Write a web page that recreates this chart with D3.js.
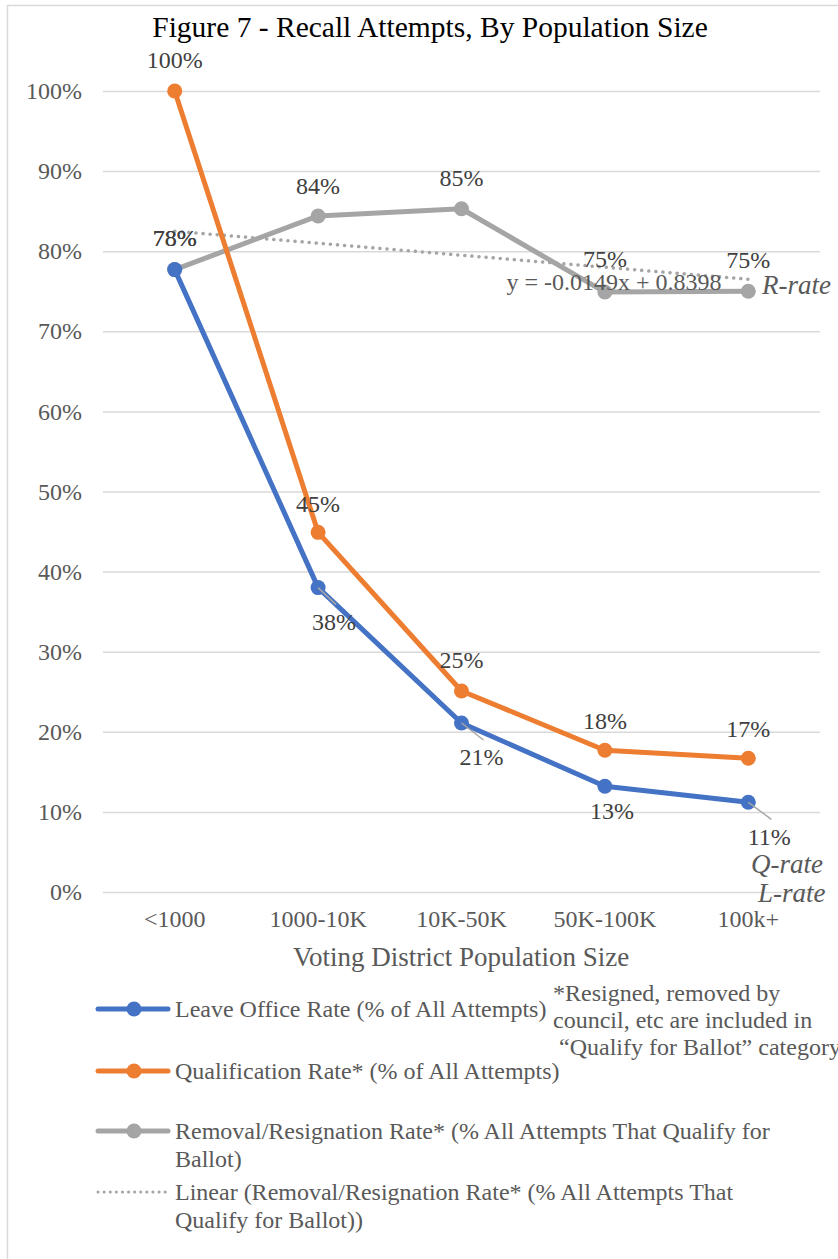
<!DOCTYPE html>
<html lang="en">
<head>
  <meta charset="UTF-8">
  <title>Figure 7 - Recall Attempts, By Population Size</title>
  <style type="text/css">
    body {
      margin: 0;
      background: white;
      font-family: "Liberation Serif", "Times New Roman", serif;
    }
    .axis path { display: none; }
    .axis text { fill: #595959; font-size: 24px; font-family: "Liberation Serif", serif; }
    .grid line { stroke: #d9d9d9; stroke-width: 1.5; }
    .grid path { display: none; }
    .label { fill: #404040; font-size: 24px; text-anchor: middle; }
    .legend text { fill: #595959; font-size: 24px; }
  </style>
  <script src="https://cdn.jsdelivr.net/npm/d3@7"></script>
</head>
<body>
<div class="main"></div>
<script>
  // data
  var categories = ["<1000", "1000-10K", "10K-50K", "50K-100K", "100k+"];
  var leaveRate = [0.777, 0.38, 0.211, 0.132, 0.112];
  var qualRate = [1.0, 0.449, 0.251, 0.177, 0.167];
  var removalRate = [0.777, 0.844, 0.853, 0.749, 0.75];
  var trendValues = [0.825, 0.810, 0.795, 0.780, 0.765];
  var yTicks = [0, 0.1, 0.2, 0.3, 0.4, 0.5, 0.6, 0.7, 0.8, 0.9, 1.0];

  var W = 838, H = 1259;
  var plot = {left: 103, right: 820, top: 91, bottom: 892};

  var svg = d3.select(".main").append("svg")
      .attr("width", W)
      .attr("height", H);

  // chart frame
  svg.append("rect")
      .attr("x", 7.5).attr("y", 5.5)
      .attr("width", W + 20).attr("height", H + 20)
      .attr("fill", "white")
      .attr("stroke", "#d9d9d9")
      .attr("stroke-width", 1.5);

  var x = d3.scaleBand().domain(categories).range([plot.left, plot.right]);
  var y = d3.scaleLinear().domain([0, 1]).range([plot.bottom, plot.top]);
  var cx = function(i) { return x(categories[i]) + x.bandwidth() / 2; };

  // title
  svg.append("text")
      .attr("x", 430).attr("y", 37)
      .attr("text-anchor", "middle")
      .style("font-size", "29.5px")
      .style("fill", "#000")
      .text("Figure 7 - Recall Attempts, By Population Size");

  // gridlines
  svg.append("g")
      .attr("class", "grid")
      .attr("transform", "translate(" + plot.left + ",0)")
      .call(d3.axisLeft(y).tickValues(yTicks).tickSize(-(plot.right - plot.left)).tickFormat(""));

  // y axis labels
  svg.append("g")
      .attr("class", "axis")
      .attr("transform", "translate(" + plot.left + ",0)")
      .call(d3.axisLeft(y).tickValues(yTicks).tickSize(0).tickPadding(21).tickFormat(d3.format(".0%")));

  // x axis labels
  svg.append("g")
      .attr("class", "axis")
      .attr("transform", "translate(0," + plot.bottom + ")")
      .call(d3.axisBottom(x).tickSize(0).tickPadding(18));

  svg.append("text")
      .attr("x", 461).attr("y", 966)
      .attr("text-anchor", "middle")
      .style("font-size", "27px")
      .style("fill", "#595959")
      .text("Voting District Population Size");

  var line = d3.line()
      .x(function(d, i) { return cx(i); })
      .y(function(d) { return y(d); });

  // trend line (linear fit of removal rate)
  svg.append("path")
      .datum(trendValues)
      .attr("d", line)
      .attr("fill", "none")
      .attr("stroke", "#a5a5a5")
      .attr("stroke-width", 3.5)
      .attr("stroke-linecap", "round")
      .attr("stroke-dasharray", "0.1 7");

  var series = [
    {name: "removal", values: removalRate, color: "#a5a5a5"},
    {name: "qual", values: qualRate, color: "#ed7d31"},
    {name: "leave", values: leaveRate, color: "#4472c4"}
  ];

  series.forEach(function(s) {
    svg.append("path")
        .datum(s.values)
        .attr("d", line)
        .attr("fill", "none")
        .attr("stroke", s.color)
        .attr("stroke-width", 5)
        .attr("stroke-linejoin", "round");
    svg.selectAll(".dot-" + s.name)
        .data(s.values)
      .enter().append("circle")
        .attr("cx", function(d, i) { return cx(i); })
        .attr("cy", function(d) { return y(d); })
        .attr("r", 7.5)
        .attr("fill", s.color);
  });

  // data label offsets (dx, dy from point), leader lines where Excel drew them
  var qualOff = [[0, -31], [0, -29], [0, -31], [0, -30], [0, -30]];
  var remOff = [[0, -32], [0, -30], [0, -31], [0, -33], [0, -32]];
  var leaveOff = [[0, -32], [16, 34], [20, 34], [7, 24], [21, 34]];
  var leaveLeader = [false, true, true, false, true];

  var fmt = d3.format(".0%");
  // leader lines
  leaveRate.forEach(function(d, i) {
    if (!leaveLeader[i]) return;
    svg.append("line")
        .attr("x1", cx(i)).attr("y1", y(d))
        .attr("x2", cx(i) + leaveOff[i][0] + 2).attr("y2", y(d) + leaveOff[i][1] - 17)
        .attr("stroke", "#a5a5a5")
        .attr("stroke-width", 1.5);
  });

  function addLabels(values, off) {
    values.forEach(function(d, i) {
      svg.append("text")
          .attr("class", "label")
          .attr("x", cx(i) + off[i][0])
          .attr("y", y(d) + off[i][1])
          .attr("dy", "0.35em")
          .text(fmt(d));
    });
  }
  addLabels(leaveRate, leaveOff);
  addLabels(qualRate, qualOff);
  addLabels(removalRate, remOff);

  // trend equation
  svg.append("text")
      .attr("x", 614).attr("y", 282)
      .attr("dy", "0.35em")
      .attr("text-anchor", "middle")
      .style("font-size", "24px")
      .style("fill", "#595959")
      .text("y = -0.0149x + 0.8398");

  // hand-written series tags
  var tags = [["R-rate", 762, 285], ["Q-rate", 751, 864], ["L-rate", 758, 893]];
  tags.forEach(function(t) {
    svg.append("text")
        .attr("x", t[1]).attr("y", t[2])
        .attr("dy", "0.35em")
        .style("font-size", "27px")
        .style("font-style", "italic")
        .style("fill", "#595959")
        .text(t[0]);
  });

  // legend
  var legendItems = [
    {color: "#4472c4", y: 1009, lines: ["Leave Office Rate (% of All Attempts)"]},
    {color: "#ed7d31", y: 1071, lines: ["Qualification Rate* (% of All Attempts)"]},
    {color: "#a5a5a5", y: 1131, lines: ["Removal/Resignation Rate* (% All Attempts That Qualify for", "Ballot)"]},
    {color: "#a5a5a5", y: 1192, dotted: true, lines: ["Linear (Removal/Resignation Rate* (% All Attempts That", "Qualify for Ballot))"]}
  ];

  var legend = svg.append("g").attr("class", "legend");
  legendItems.forEach(function(it) {
    var sw = legend.append("line")
        .attr("x1", 98).attr("x2", 168)
        .attr("y1", it.y).attr("y2", it.y)
        .attr("stroke", it.color);
    if (it.dotted) {
      sw.attr("stroke-width", 3).attr("stroke-linecap", "round").attr("stroke-dasharray", "0.1 6");
    } else {
      sw.attr("stroke-width", 5).attr("stroke-linecap", "round");
      legend.append("circle")
          .attr("cx", 134).attr("cy", it.y).attr("r", 7.5)
          .attr("fill", it.color);
    }
    it.lines.forEach(function(l, j) {
      legend.append("text")
          .attr("x", 175).attr("y", it.y + j * 28)
          .attr("dy", "0.35em")
          .text(l);
    });
  });

  // footnote
  var note = ["*Resigned, removed by", "council, etc are included in", " \u201CQualify for Ballot\u201D category"];
  note.forEach(function(l, j) {
    legend.append("text")
        .attr("x", 553).attr("y", 993 + j * 27)
        .attr("dy", "0.35em")
        .style("white-space", "pre")
        .text(l);
  });
</script>
</body>
</html>
